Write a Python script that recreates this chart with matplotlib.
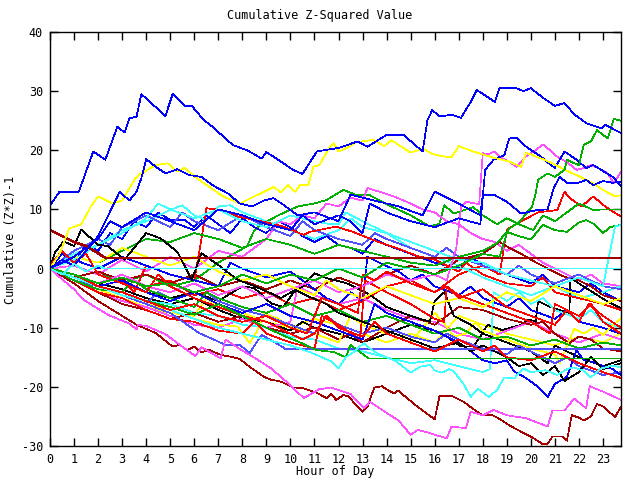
import matplotlib
matplotlib.use("Agg")
import matplotlib.pyplot as plt

# gnuplot-like palette
R, G, B, M, C = '#ff0000', '#00b000', '#0000ff', '#ff50ff', '#40ffff'
DR, Y, K, MB = '#a00000', '#ffff00', '#000000', '#5050ff'

TITLE = "Cumulative Z-Squared Value"
XLABEL = "Hour of Day"
YLABEL = "Cumulative (Z*Z)-1"

# ---- prominent series (hour, value) ----
blue_top_h = [0, 0.4, 1.2, 1.8, 2.3, 2.8, 3.1, 3.3, 3.6, 3.8, 4.8, 5.1, 5.6, 5.9, 6.4, 6.75, 7.6, 8.2,
              8.55, 8.8, 9.0, 9.6, 10.1, 10.5, 11.1, 12.0, 12.8, 13.2, 14.0, 14.7, 15.5, 15.7, 15.9,
              16.2, 16.7, 17.1, 17.5, 17.75, 18.5, 18.7, 19.4, 19.7, 20.0, 20.5, 21.0, 21.4, 21.8,
              22.3, 22.95, 23.1, 23.75]
blue_top_v = [10.7, 13.0, 13.0, 19.8, 18.4, 24.0, 23.0, 25.4, 25.7, 29.5, 25.8, 29.5, 27.5, 27.5, 25.1,
              24.0, 20.9, 20.0, 19.2, 18.6, 19.7, 18.1, 16.7, 16.0, 19.8, 20.4, 21.5, 20.6, 22.6, 22.6,
              19.8, 25.1, 26.8, 25.7, 26.0, 25.5, 28.2, 30.2, 28.2, 30.5, 30.5, 30.0, 30.5, 28.9, 27.5,
              28.0, 26.1, 24.6, 23.7, 24.3, 22.9]

yellow_high_h = [0, 0.4, 0.8, 1.3, 1.7, 2.0, 2.6, 3.0, 3.55, 3.8, 4.4, 4.9, 5.3, 5.6, 6.1, 6.7, 7.2,
                 7.9, 8.6, 8.9, 9.3, 9.6, 9.9, 10.2, 10.4, 10.75, 10.95, 11.2, 11.6, 11.8, 12.0, 12.4,
                 12.7, 13.45, 13.9, 14.2, 15.0, 15.5, 15.9, 16.3, 16.7, 17.0, 17.6, 18.4, 19.1, 19.6,
                 19.8, 20.25, 20.9, 21.4, 21.9, 22.6, 23.0, 23.5, 23.75]
yellow_high_v = [0, 2.5, 6.8, 7.5, 10.5, 12.2, 11.0, 11.5, 15.3, 16.1, 17.5, 17.8, 16.4, 17.0, 15.3,
                 13.6, 12.2, 11.0, 12.4, 13.0, 13.8, 12.9, 14.1, 13.0, 14.1, 14.1, 17.2, 17.5, 20.3,
                 21.2, 19.8, 20.5, 21.3, 21.8, 20.7, 21.7, 19.6, 20.3, 19.4, 19.0, 18.8, 20.7, 19.8,
                 18.8, 18.1, 17.2, 19.6, 18.9, 17.8, 16.7, 15.8, 14.4, 13.3, 12.2, 12.4]

green_rise_h = [0, 1, 2, 3, 4, 5, 6, 7, 8, 9, 10, 11, 12, 13, 14, 15, 16, 17, 18, 18.7, 19.05, 19.55,
                20.05, 20.2, 20.3, 20.7, 21.0, 21.4, 21.5, 21.7, 22.0, 22.2, 22.5, 22.75, 23.2, 23.45, 23.75]
green_rise_v = [0, -1, -2.5, -1.5, -3, -2.5, -4, -3, -1, -2.5, -1, -2, 0, -1.5, 1, 0, -1, 0.5, 2.5, 2.0,
                6.6, 8.0, 10.5, 12.7, 15.0, 16.1, 15.5, 16.7, 18.4, 18.0, 17.5, 20.9, 21.5, 23.4, 22.0,
                25.3, 25.0]

magenta_high_h = [0, 1, 2, 3, 4, 5, 6, 7, 8, 9, 10, 11, 12, 13, 14, 15, 16, 16.5, 16.9, 17.1, 17.3,
                  17.7, 17.85, 18.0, 18.2, 18.5, 18.7, 19.1, 19.4, 19.8, 20.2, 20.5, 20.8, 21.1, 21.5,
                  21.9, 22.2, 22.5, 22.8, 23.2, 23.45, 23.75]
magenta_high_v = [0, -1, -2.5, -1, -3, -4, -2.5, -4.5, -3, -5, -3.5, -2, -4, -3, -1, -2, -1, -2, 3.5,
                  10.5, 11.3, 11.0, 10.9, 19.5, 19.3, 19.8, 18.9, 18.1, 17.2, 19.0, 20.0, 21.0, 20.0,
                  18.9, 18.0, 16.7, 17.0, 17.5, 17.0, 16.1, 14.4, 16.4]

blue_mid_h = [0, 0.5, 1.0, 1.5, 2.0, 2.4, 2.9, 3.3, 3.6, 3.8, 4.0, 4.4, 4.8, 5.3, 5.8, 6.3, 6.8, 7.4,
              7.9, 8.4, 8.9, 9.3, 9.7, 10.3, 11.0, 12.0, 12.5, 13.5, 14.5, 15.5, 16.0, 17.0, 17.9, 18.0,
              18.5, 19.0, 19.6, 20.25, 20.7, 20.95, 21.2, 21.5, 21.9, 22.3, 22.6, 23.0, 23.4, 23.75]
blue_mid_v = [0, 1.5, 0.5, 3, 5.5, 8.8, 13.0, 11.5, 13.0, 15.3, 18.5, 17.2, 16.1, 16.8, 15.8, 15.5,
              14.0, 12.7, 11.0, 10.5, 11.5, 11.9, 10.8, 9.0, 9.5, 8.0, 12.5, 11.5, 10.5, 9.0, 13.0,
              11.0, 9.0, 12.5, 12.4, 11.3, 9.3, 9.9, 10.0, 13.6, 15.5, 14.5, 14.4, 15.0, 14.1, 14.8,
              14.5, 14.7]

blue_b_h = [0, 1, 2, 2.5, 3, 4, 5, 6, 7, 8, 9, 10, 10.5, 11, 12, 12.5, 13, 13.3, 14, 15, 16, 17, 17.9,
            18.1, 18.45, 18.9, 19.1, 19.4, 19.7, 20.1, 20.4, 20.75, 21.0, 21.4, 21.9, 22.3, 22.6, 23.0,
            23.4, 23.75]
blue_b_v = [0, 2, 5, 8, 7, 9.5, 8, 6.5, 10, 9, 7.5, 6.5, 9, 7.5, 9, 8, 6, 11, 9.5, 8, 7, 8.5, 7.5,
            16.7, 18.4, 19.2, 22.0, 22.1, 20.9, 19.8, 19.0, 17.8, 17.0, 19.8, 18.4, 17.0, 17.5, 16.5,
            15.5, 14.0]

darkred_flat_h = [0, 0.5, 1.0, 1.5, 2.0, 2.3, 23.75]
darkred_flat_v = [6.5, 5.5, 4.5, 3.8, 2.6, 1.8, 1.8]

cyan_flat_h = [0, 0.5, 1.0, 1.5, 2.0, 2.3, 23.75]
cyan_flat_v = [0, -1.0, 0.8, -0.5, 0.5, 0.0, 0.0]

mblue_flat_h = [0, 1, 2, 3, 4, 5, 6.2, 7.3, 7.9, 8.3, 8.8, 9.4, 9.8, 23.75]
mblue_flat_v = [0, -1.5, -3, -4.5, -6, -7.5, -10.9, -12.9, -12.9, -14.3, -11.2, -12.6, -13.6, -13.6]

green_flat_h = [0, 1, 2, 3, 4, 5, 6, 7, 8, 9, 9.8, 10.35, 11.1, 11.8, 12.3, 12.5, 13.25, 23.75]
green_flat_v = [0, -1.5, -3, -4, -5.5, -6.5, -7.8, -6, -8, -10, -11.5, -12.4, -13.8, -14.1, -15.0,
                -12.9, -15.2, -15.2]

magenta_low_h = [0, 0.5, 1.0, 1.4, 2.45, 3.3, 3.6, 3.65, 4.0, 4.8, 5.3, 5.7, 6.05, 6.3, 7.1, 7.3, 7.85,
                 8.3, 8.75, 9.2, 9.6, 10.1, 10.55, 11.2, 11.7, 12.5, 13.05, 13.3, 14.15, 14.5, 15.0,
                 15.3, 15.8, 16.0, 16.5, 16.7, 17.3, 17.5, 18.0, 18.45, 19.0, 19.8, 20.7, 20.9, 21.4,
                 21.8, 22.3, 22.45, 23.0, 23.75]
magenta_low_v = [0, -1.8, -3.5, -5.3, -7.9, -9.3, -10.3, -9.5, -9.7, -11.1, -12.6, -13.8, -14.8, -13.3,
                 -15.2, -12.0, -13.5, -14.6, -15.7, -16.9, -18.3, -20.1, -21.9, -20.4, -20.1, -21.2,
                 -23.6, -22.5, -24.8, -25.7, -28.1, -27.3, -27.8, -28.1, -28.7, -26.7, -27.0, -24.2,
                 -24.8, -23.9, -24.8, -25.3, -26.7, -24.0, -24.0, -22.0, -23.6, -19.9, -20.8, -22.2]

darkred_low_h = [0, 1, 2, 3, 3.6, 4.4, 5.1, 5.4, 5.7, 6.0, 6.3, 6.6, 7.1, 7.5, 7.9, 8.3, 8.9, 9.2, 9.6,
                 10.1, 10.5, 11.1, 11.5, 11.7, 11.9, 12.2, 12.4, 13.0, 13.2, 13.4, 13.5, 13.8, 14.0,
                 14.3, 14.5, 14.7, 15.3, 16.0, 16.2, 16.7, 17.2, 17.55, 18.0, 18.4, 18.65, 19.1, 19.6,
                 20.0, 20.5, 20.7, 20.9, 21.3, 21.5, 21.7, 22.0, 22.2, 22.5, 22.75, 23.0, 23.5, 23.75]
darkred_low_v = [0, -2.5, -5.5, -8, -9.5, -10.9, -13.2, -12.9, -13.8, -13.2, -14.2, -13.7, -14.6, -14.9,
                 -15.3, -16.6, -18.3, -18.8, -19.1, -20.1, -20.2, -21.0, -21.9, -21.2, -22.2, -21.4,
                 -21.6, -24.2, -23.4, -21.1, -20.1, -19.9, -20.4, -21.1, -20.6, -21.4, -23.4, -25.5,
                 -21.6, -21.5, -22.5, -23.6, -24.8, -24.8, -25.3, -26.5, -27.6, -28.4, -29.7, -29.6,
                 -28.4, -28.4, -29.1, -24.8, -25.2, -25.7, -25.0, -22.9, -23.3, -25.1, -23.4]

cyan_low_h = [0, 1, 2, 3, 4, 5, 6, 7, 8, 9, 10, 10.8, 11.2, 11.7, 12.0, 12.3, 12.6, 13.05, 13.3, 13.6,
              14.0, 14.4, 15.0, 15.4, 15.8, 16.0, 16.3, 16.6, 16.8, 17.2, 17.5, 17.8, 18.25, 18.6, 18.9,
              19.3, 19.7, 20.0, 20.6, 21.1, 21.5, 21.8, 22.2, 22.5, 22.9, 23.4, 23.75]
cyan_low_v = [0, -1.5, -3, -4.5, -5.5, -7, -8.5, -10, -11, -12, -13, -14.1, -14.8, -15.7, -16.9, -15.0,
              -14.2, -12.6, -13.5, -14.3, -15.0, -15.7, -17.6, -16.6, -16.3, -17.2, -17.6, -17.0,
              -17.4, -19.5, -21.7, -20.3, -21.7, -20.5, -18.4, -18.6, -16.9, -17.5, -17.2, -18.0,
              -17.0, -16.7, -17.3, -18.4, -16.9, -16.4, -16.7]

cyan_end_h = [0, 1, 2, 3, 4, 4.5, 5, 6, 7, 8, 9, 10, 11, 11.5, 12, 12.3, 13, 14, 15, 16, 17, 18, 19,
              20, 21, 22, 23, 23.3, 23.5, 23.75]
cyan_end_v = [0, 1.5, 4, 6, 8.5, 11, 10, 8.5, 10, 8, 7, 9, 8, 7.6, 7.5, 9.5, 8, 6, 4.5, 3, 1.5, 1, -1,
              -2, -3, -1.5, -3, 3, 7.1, 7.4]

cyan_jump_h = [0, 1, 2, 3, 4, 5, 6, 7, 8, 9, 10, 11, 12, 13, 14, 15, 16, 17, 18, 18.3, 18.45, 19,
               19.5, 20, 20.5, 21, 22, 22.5, 23, 23.75]
cyan_jump_v = [0, -1.5, -3, -4, -5.5, -6, -7.5, -8, -9.5, -10, -11.5, -12, -13.5, -14, -15, -16,
               -15.5, -16.5, -17.5, -17, -4, -5.5, -4, -6, -5, -7, -8.5, -7, -9, -10]

cyan_mid_h = [0, 1, 2, 3, 4, 5, 5.5, 6, 6.5, 7, 7.5, 8, 9, 10, 11, 12, 12.5, 13, 14, 15, 16, 17, 18,
              19, 20, 21, 22, 23, 23.75]
cyan_mid_v = [0, 2.5, 4, 6.5, 8, 9.9, 10.7, 9, 8.2, 10.5, 10.7, 9.5, 8, 6.5, 5, 6.5, 8.5, 7, 6, 3.5,
              2, 0.5, -1.5, -3, -4.5, -3, -5, -4, -3]

black_a_h = [0, 0.2, 0.57, 1.0, 1.3, 1.6, 2.0, 2.4, 3.1, 3.5, 4.0, 4.6, 5.3, 5.9, 6.3, 7.0, 7.8, 8.4,
             9.2, 9.6, 10.2, 10.8, 11.5, 12, 13, 14, 15, 16, 17, 17.5, 18, 19, 19.5, 20, 20.5, 21,
             21.4, 22, 22.5, 23, 23.75]
black_a_v = [0, 2.7, 4.6, 3.8, 6.6, 5.5, 4.0, 3.8, 1.5, 3.5, 6.0, 5.1, 2.8, -1.9, 2.6, 0.6, -1.9,
             -2.8, -4.2, -5.0, -3.6, -4.8, -6, -7.5, -9, -10.5, -12, -13.5, -12.5, -14, -13, -15,
             -16.5, -16, -18, -16.5, -19, -17.5, -15, -17, -16]

black_b_h = [0, 1, 2, 3, 4, 5, 6, 7, 8, 9, 10, 10.5, 11, 12, 13, 14, 15, 16, 16.5, 17.1, 17.6, 17.9,
             18.2, 18.8, 19.6, 19.9, 20.2, 20.3, 20.8, 21.6, 21.65, 22.3, 23.2, 23.75]
black_b_v = [0, -1, -2.5, -3.5, -5, -6, -5, -7, -8.5, -9, -10.5, -9, -10, -11, -12.5, -11, -9.5, -10.5,
             -11.5, -13.2, -13.2, -11.5, -9.5, -10.4, -9.5, -8.6, -9.0, -5.5, -6.5, -7.5, -1.6, -3.3,
             -5.6, -6.7]

black_c_h = [0, 1, 2, 3, 4, 5, 6, 7, 8, 8.5, 9.2, 9.7, 10.1, 10.5, 11.0, 11.5, 12.35, 13.2, 13.6, 14,
             15, 15.8, 16, 16.4, 16.8, 17.5, 18, 19, 20, 20.7, 21, 22, 23, 23.75]
black_c_v = [0, -1.5, -3, -2, -4, -5, -4, -5.5, -3, -3.3, -5.9, -6.5, -4.2, -3, -0.8, -1.6, -2.5, -4.2,
             -5.3, -6.5, -8, -9, -5.5, -4, -8, -9.5, -11, -12.5, -14, -16, -13, -15, -16.5, -15.5]

# ---- bundle series (hour, value) ----
red_a_h = [0, 1, 2, 3, 4, 5, 6, 7, 8, 9, 10, 11, 12, 13, 14, 15, 16, 17, 18, 18.7, 19.0, 19.6, 20.3,
           21.1, 21.4, 21.6, 22.1, 22.6, 23.0, 23.3, 23.75]
red_a_v = [0, -1, -2.5, -1, -3, -2, -4.5, -3.5, -5, -4, -6, -5, -7, -5.5, -3, -2, -4, -1, 0.5, -1, 6.6,
           8.0, 9.5, 9.9, 13.0, 12.0, 10.5, 12.2, 10.8, 9.9, 8.8]

red_b_h = [0, 1, 2, 3, 3.5, 4, 5, 6, 6.3, 6.5, 7.1, 7.8, 8.8, 9.7, 10.55, 10.8, 11.9, 12.6, 13.6, 14.4,
           15.3, 16, 17, 17.3, 18, 19, 20, 20.5, 21, 22, 23, 23.75]
red_b_v = [0, -1.5, -3, -2, -4, 0.5, -1, -2, 5, 10.2, 9.9, 8.8, 8.0, 7.1, 5.7, 6.2, 7.1, 6.2, 4.6, 3.5,
           2.1, 1.5, -0.5, 1, -1, -2.5, -3, -1.5, -4, -5, -6, -7]

red_c_h = [0, 1, 2, 3, 4, 5, 6, 7, 8, 8.5, 9, 10, 11, 11.3, 12, 12.9, 13.1, 14, 15, 16, 16.4, 16.5, 17,
           18, 19, 20, 20.8, 21, 22, 22.5, 23, 23.75]
red_c_v = [0, -2, -4, -5, -7, -8.5, -9, -10.5, -11, -9, -11, -12.5, -13.5, -8, -9.5, -12, -2, -4, -6,
           -8.5, -9, -3, -4.5, -6, -7.5, -9, -11, -6, -8, -6, -9, -11]

red_d_h = [0, 0.5, 1, 1.5, 2, 3, 4, 4.5, 5, 6, 7, 8, 9, 10, 10.5, 11, 11.5, 12, 13, 13.5, 14, 15, 16,
           17, 18, 18.5, 19, 20, 21, 22, 23, 23.75]
red_d_v = [0.5, 3, 1, 2.5, -1, -2.5, -4, -1, -3, -5, -6.5, -8, -9, -11, -12, -11, -8, -10, -11.5, -9,
           -11, -12.5, -14, -12, -14, -13, -15, -15.5, -14, -16, -17.5, -18.5]

red_e_h = [0, 1, 2, 3, 4, 5, 6, 7, 8, 9, 10, 10.7, 11.3, 12, 12.8, 13, 13.5, 14, 15, 16, 16.5, 17, 18,
           18.5, 19, 20, 21, 21.5, 22, 22.4, 23, 23.75]
red_e_v = [0, -1, -3, -4, -5.5, -7, -6, -8, -9, -8, -10, -11, -5, -6, -7.5, -1, -2, -0.5, -2.5, -4,
           -3, -5, -3.5, -5, -6.5, -8, -9.5, -7, -9, -6, -8, -10]

green_b_h = [0, 1, 2, 3, 4, 5, 6, 7, 8.2, 8.5, 8.75, 9.5, 10.3, 11.0, 11.5, 12.2, 12.7, 13.3, 14.2, 15.0,
             15.8, 16.2, 16.4, 16.8, 17.6, 18.0, 18.6, 19.0, 19.5, 20.1, 20.5, 21.0, 21.5, 22.0, 22.6,
             23.0, 23.75]
green_b_v = [0, -1.5, -0.5, -2.5, -1, -3, -2, 1, 3.8, 6.5, 7.4, 9, 10.5, 11.0, 11.6, 13.3, 12.5, 12.4,
             10.5, 9, 7.1, 7.6, 10.7, 9.3, 10.4, 9.0, 7.5, 8.5, 7.5, 6.5, 9, 8, 9.5, 11, 9.9, 10, 10]

green_c_h = [0, 1, 2, 3, 4, 5, 6, 7, 8, 9, 10, 11, 12, 13, 14, 15, 16, 17, 18, 18.6, 19.0, 19.5, 20.0,
             20.5, 21.0, 21.5, 22.0, 22.3, 22.6, 23.0, 23.3, 23.75]
green_c_v = [0, 2, 1, 3, 5, 4.5, 6, 5, 3.5, 5, 4, 2.5, 4, 3, 2, 1, 0.5, 2, 3, 4.3, 6.2, 5.5, 4.9, 7.4,
             6.5, 6.2, 7.8, 8.2, 7.6, 6, 7, 7.4]

green_d_h = [0, 1, 2, 3, 3.5, 4, 5, 6, 6.5, 7, 8, 9, 10, 11, 12, 13, 14, 15, 16, 17, 18, 19, 20, 21,
             22, 23, 23.75]
green_d_v = [0, -2, -3.5, -4, -2, -3.5, -5, -6.5, -4, -5, -6.5, -7.5, -6, -8, -7, -9, -8, -9.5, -11,
             -10, -12, -11.5, -13, -12, -13.5, -12.5, -13]

magenta_c_h = [0, 1, 2, 3, 4, 5, 6, 7, 8, 9, 9.5, 10, 10.5, 11, 11.5, 12, 12.5, 13, 13.2, 13.7, 14.3,
               15, 15.5, 16, 16.5, 17, 17.5, 18, 18.5, 19, 19.5, 20, 20.5, 21, 21.5, 22, 22.5, 23, 23.75]
magenta_c_v = [0, 0.5, -1, 1.5, -0.5, 2, 0, 3, 2, 5, 8, 7.5, 9, 8.5, 11, 10.5, 12, 11.5, 13.6, 13,
               12.2, 11, 10, 9.5, 8, 7.5, 6, 5, 4.5, 3, 4, 2.5, 1, 0, -1, -2, -1, -2.5, -3]

magenta_d_h = [0, 1, 2, 3, 4, 5, 6, 7, 8, 9, 10, 10.3, 11, 12, 13, 14, 15, 16, 17, 18, 19, 20, 21, 22,
               23, 23.75]
magenta_d_v = [0, -2, -4, -5.5, -6.5, -8, -9.5, -10, -8.5, -10, -9, -3, -4.5, -6, -5, -7, -8.5, -9,
               -11, -12, -10.5, -9, -11, -12.5, -11, -12]

yellow_b_h = [0, 1, 2, 3, 4, 5, 6, 6.5, 7, 8, 9, 10, 11, 12, 13, 14, 15, 16, 17, 18, 19, 20, 21, 22,
              23, 23.75]
yellow_b_v = [0, -2, -3.5, -5, -6.5, -7.5, -8, -5, -6.5, -7.5, -9, -10, -8.5, -9.5, -11, -12.5, -11,
              -12.5, -8, -9.5, -11, -12, -13, -11.5, -12.5, -11]

yellow_c_h = [0, 1, 2, 3, 4, 5, 6, 7, 7.8, 8.3, 8.6, 8.9, 9.5, 10, 11, 12, 12.5, 13, 14, 15, 16, 16.4,
              16.8, 17.3, 17.7, 18, 19, 20, 21, 21.2, 21.8, 22.2, 22.6, 23.0, 23.4, 23.75]
yellow_c_v = [0, -1.5, -3, -4.5, -6, -7, -8.5, -9.5, -9.8, -12.6, -10.7, -7.6, -8.5, -10, -11, -12.5,
              -8, -9.5, -11, -12.5, -7.5, -9.3, -11.5, -11, -9, -10.5, -12, -13.5, -14.5, -16, -10.2,
              -11, -10, -11.2, -9.6, -8.4]

yellow_d_h = [0, 1, 2, 3, 4, 5, 6, 7, 8, 9, 10, 11, 11.5, 12, 13, 14, 15, 16, 17, 18, 19, 20, 21, 22,
              23, 23.75]
yellow_d_v = [0, 2, 1, 3.5, 2, 0.5, 2, -0.5, -2, -1, -3, -4.5, -2, -3.5, -5, -3, -4.5, -6, -5, -6.5,
              -4, -5.5, -3, -4.5, -6, -5]

blue_low_h = [0, 1, 2, 3, 4, 5, 6, 7, 8, 9, 10, 11, 12, 13, 13.5, 14, 15, 16, 17, 17.5, 18, 18.5, 19.0,
              19.3, 19.8, 20.3, 20.7, 21.0, 21.5, 21.9, 22.2, 22.6, 23.0, 23.4, 23.75]
blue_low_v = [0, -1.5, -3, -2, -4, -5.5, -4, -6, -7.5, -6, -8, -9, -10.5, -12, -6, -7.5, -9, -10.5,
              -12.5, -14, -15.5, -16, -15.5, -17.4, -18.5, -20, -21.7, -19.5, -18.3, -13.8, -15.5,
              -15.8, -16.5, -17, -18]

blue_c_h = [0, 0.5, 1, 1.5, 2, 2.5, 3, 3.5, 4, 4.5, 5, 5.6, 6, 6.5, 7, 7.5, 8, 8.5, 9, 9.5, 10, 10.5,
            11, 11.5, 12, 12.5, 13, 13.5, 14, 15, 16, 17, 17.5, 18, 19, 20, 20.5, 21, 22, 22.5, 23, 23.75]
blue_c_v = [0, 2.5, 1, 4, 3, 6, 5, 8, 7, 9.5, 8.2, 8.2, 7, 9, 7.5, 6, 8.5, 7, 6, 8, 7, 5.5, 4.5, 5.5,
            4, 3.5, 2.5, 5, 4, 2.5, 1, 0, 2, 0.5, -1, -2.5, -1, -3, -4, -2.5, -4, -5.5]

blue_d_h = [0, 1, 2, 3, 4, 5, 6, 7, 7.5, 8, 9, 10, 10.5, 11, 11.5, 12, 12.5, 13, 13.2, 13.7, 14.5, 15,
            15.5, 16, 17, 17.5, 18, 19, 19.5, 20, 21, 21.5, 22, 23, 23.75]
blue_d_v = [0, 1.5, 0, 2, 0.5, -1, -2, -3, 1, 0, -1.5, -0.5, -2, -3.5, -5, -6, -4, -5.5, 2, 1, -0.5,
            -2, -1, -3, -4.5, -3, -5, -6.5, -5, -7, -8.5, -7, -9, -10, -11]

mblue_b_h = [0, 1, 2, 2.5, 3, 4, 4.5, 5, 5.5, 6, 7, 8, 8.5, 9, 10, 10.5, 11, 12, 13, 13.5, 14, 15, 16,
             16.5, 17, 18, 19, 19.5, 20, 21, 22, 23, 23.75]
mblue_b_v = [0, 3, 5, 4, 7, 9, 8, 7, 9.5, 8, 6.5, 9, 8, 7, 5.5, 8, 6.5, 5, 4, 6, 5, 3.5, 2, 3.5, 2, 0.5,
             -1, 0.5, -1, -2.5, -1, -3, -3.5]

mblue_c_h = [0, 1, 2, 3, 4, 4.5, 5, 6, 6.5, 7, 8, 9, 10, 11, 11.5, 12, 13, 14, 15, 16, 16.5, 17, 18,
             19, 19.5, 20, 21, 21.5, 22, 23, 23.75]
mblue_c_v = [0, -2, -3, -4.5, -6, -4, -5, -6.5, -4, -5.5, -7, -8, -9.5, -11, -8, -9.5, -11, -10, -11.5,
             -12.5, -11, -12, -13.5, -14.5, -13, -14, -16, -15, -16.5, -18, -17.5]

darkred_c_h = [0, 1, 2, 3, 4, 5, 6, 7, 8, 9, 10, 11, 12, 13, 14, 15, 16, 17, 18, 18.7, 19.1, 19.6, 20,
               20.8, 21.4, 22, 22.5, 23, 23.75]
darkred_c_v = [0, -1.5, -0.5, -2, -1, -2.5, -1, -3, -2, -3.5, -2, -3.5, -1.5, -3, -1, 0.5, -1, 1.5,
               2.5, 4.5, 3.5, 2.5, 1.5, -0.2, -1.4, -2, -3, -4.5, -5.5]

darkred_d_h = [0, 1, 2, 3, 4, 5, 6, 7, 8, 9, 10, 11, 12, 12.5, 13, 14, 15, 16, 17, 18, 19, 20, 20.5,
               21, 21.6, 22, 22.5, 23, 23.75]
darkred_d_v = [0, -2, -4, -6, -7, -8.5, -7.5, -9, -8, -10, -11, -10, -12, -11, -12.5, -10, -8, -9.5,
               -6.5, -7, -8.5, -9.5, -9, -11, -12.6, -11.5, -12, -13.5, -14]

# drawing order: first listed is drawn first (underneath)
series = [
    (red_a_h, red_a_v, R), (green_b_h, green_b_v, G), (blue_c_h, blue_c_v, B),
    (magenta_c_h, magenta_c_v, M), (cyan_mid_h, cyan_mid_v, C), (darkred_c_h, darkred_c_v, DR),
    (yellow_b_h, yellow_b_v, Y), (black_b_h, black_b_v, K), (mblue_b_h, mblue_b_v, MB),
    (red_b_h, red_b_v, R), (green_c_h, green_c_v, G), (blue_d_h, blue_d_v, B),
    (magenta_d_h, magenta_d_v, M), (cyan_jump_h, cyan_jump_v, C), (darkred_d_h, darkred_d_v, DR),
    (yellow_c_h, yellow_c_v, Y), (black_c_h, black_c_v, K), (mblue_c_h, mblue_c_v, MB),
    (red_c_h, red_c_v, R), (green_d_h, green_d_v, G), (blue_low_h, blue_low_v, B),
    (magenta_high_h, magenta_high_v, M), (cyan_end_h, cyan_end_v, C), (darkred_low_h, darkred_low_v, DR),
    (yellow_d_h, yellow_d_v, Y), (black_a_h, black_a_v, K), (mblue_flat_h, mblue_flat_v, MB),
    (red_d_h, red_d_v, R), (green_flat_h, green_flat_v, G), (blue_b_h, blue_b_v, B),
    (magenta_low_h, magenta_low_v, M), (cyan_low_h, cyan_low_v, C), (darkred_flat_h, darkred_flat_v, DR),
    (yellow_high_h, yellow_high_v, Y), (red_e_h, red_e_v, R), (green_rise_h, green_rise_v, G),
    (blue_mid_h, blue_mid_v, B), (cyan_flat_h, cyan_flat_v, C), (blue_top_h, blue_top_v, B),
]

plt.rcParams['font.family'] = ['DejaVu Sans Mono']
plt.rcParams['axes.unicode_minus'] = False
fig = plt.figure(figsize=(6.4, 4.8), dpi=100)
ax = fig.add_axes([50 / 640, 34 / 480, 571 / 640, 414 / 480])

for h, v, col in series:
    lw = 1.1 if (h is darkred_flat_h) else 0.5
    ax.plot(h, v, color=col, lw=lw, antialiased=False)

ax.set_xlim(0, 23.75)
ax.set_ylim(-30, 40)
ax.set_xticks(range(0, 24))
ax.set_yticks(range(-30, 41, 10))
ax.tick_params(direction='in', length=6, width=1, top=True, right=True,
               labelsize=8.5, pad=5)
for s in ax.spines.values():
    s.set_linewidth(1)

fig.text(0.5, 1 - 15 / 480, TITLE, ha='center', va='center', fontsize=8.5)
fig.text(335 / 640, 1 - 472 / 480, XLABEL, ha='center', va='center', fontsize=8.5)
fig.text(11 / 640, 0.5, YLABEL, ha='center', va='center', rotation=90, fontsize=8.5)

fig.savefig("out.png", dpi=100)
